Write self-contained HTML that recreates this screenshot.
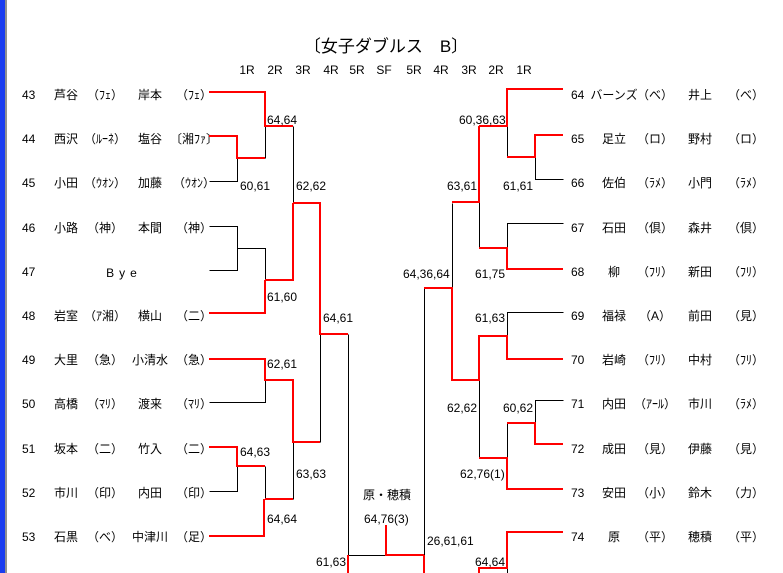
<!DOCTYPE html>
<html><head><meta charset="utf-8"><style>
html,body{margin:0;padding:0;background:#fff;width:783px;height:573px;overflow:hidden}
svg{display:block}
text{font-family:"Liberation Sans","Noto Sans CJK JP",sans-serif;font-size:12px;fill:#000}
.r{stroke:#f00;stroke-width:2;fill:none;shape-rendering:crispEdges}
.b{stroke:#000;stroke-width:1;fill:none;shape-rendering:crispEdges}
</style></head><body>
<svg width="783" height="573" viewBox="0 0 783 573" xmlns="http://www.w3.org/2000/svg">
<rect x="0" y="0" width="5" height="573" fill="#1a3cf0"/>
<rect x="5" y="0" width="2" height="573" fill="#909090"/>
<text x="386" y="52" text-anchor="middle" style="font-size:17px">〔女子ダブルス　B〕</text>
<g text-anchor="middle">
<text x="247" y="74">1R</text><text x="275" y="74">2R</text><text x="303" y="74">3R</text><text x="331" y="74">4R</text><text x="357" y="74">5R</text><text x="384" y="74">SF</text><text x="414" y="74">5R</text><text x="441" y="74">4R</text><text x="469" y="74">3R</text><text x="496" y="74">2R</text><text x="524" y="74">1R</text>
</g>
<g>
<text x="22" y="99">43</text><text x="22" y="143">44</text><text x="22" y="187">45</text><text x="22" y="232">46</text><text x="22" y="276">47</text><text x="22" y="320">48</text><text x="22" y="364">49</text><text x="22" y="408">50</text><text x="22" y="453">51</text><text x="22" y="497">52</text><text x="22" y="541">53</text>
</g>
<g text-anchor="middle">
<text x="66" y="99">芦谷</text><text x="105" y="99">（ﾌｪ）</text><text x="150" y="99">岸本</text><text x="194" y="99">（ﾌｪ）</text>
<text x="66" y="143">西沢</text><text x="105" y="143">（ﾙｰﾈ）</text><text x="150" y="143">塩谷</text><text x="194" y="143">〔湘ﾌｧ〕</text>
<text x="66" y="187">小田</text><text x="105" y="187">（ｳｵﾝ）</text><text x="150" y="187">加藤</text><text x="194" y="187">（ｳｵﾝ）</text>
<text x="66" y="232">小路</text><text x="105" y="232">（神）</text><text x="150" y="232">本間</text><text x="194" y="232">（神）</text>
<text x="124" y="277" style="letter-spacing:5px">Bye</text>
<text x="66" y="320">岩室</text><text x="105" y="320">（ｱ湘）</text><text x="150" y="320">横山</text><text x="194" y="320">（二）</text>
<text x="66" y="364">大里</text><text x="105" y="364">（急）</text><text x="150" y="364">小清水</text><text x="194" y="364">（急）</text>
<text x="66" y="408">高橋</text><text x="105" y="408">（ﾏﾘ）</text><text x="150" y="408">渡来</text><text x="194" y="408">（ﾏﾘ）</text>
<text x="66" y="453">坂本</text><text x="105" y="453">（二）</text><text x="150" y="453">竹入</text><text x="194" y="453">（二）</text>
<text x="66" y="497">市川</text><text x="105" y="497">（印）</text><text x="150" y="497">内田</text><text x="194" y="497">（印）</text>
<text x="66" y="541">石黒</text><text x="105" y="541">（べ）</text><text x="150" y="541">中津川</text><text x="194" y="541">（足）</text>
</g>
<g>
<text x="571" y="99">64</text><text x="571" y="143">65</text><text x="571" y="187">66</text><text x="571" y="232">67</text><text x="571" y="276">68</text><text x="571" y="320">69</text><text x="571" y="364">70</text><text x="571" y="408">71</text><text x="571" y="453">72</text><text x="571" y="497">73</text><text x="571" y="541">74</text>
</g>
<g text-anchor="middle">
<text x="614" y="99">バーンズ</text><text x="655" y="99">（べ）</text><text x="700" y="99">井上</text><text x="746" y="99">（べ）</text>
<text x="614" y="143">足立</text><text x="655" y="143">（ロ）</text><text x="700" y="143">野村</text><text x="746" y="143">（ロ）</text>
<text x="614" y="187">佐伯</text><text x="655" y="187">（ﾗﾒ）</text><text x="700" y="187">小門</text><text x="746" y="187">（ﾗﾒ）</text>
<text x="614" y="232">石田</text><text x="655" y="232">（倶）</text><text x="700" y="232">森井</text><text x="746" y="232">（倶）</text>
<text x="614" y="276">柳</text><text x="655" y="276">（ﾌﾘ）</text><text x="700" y="276">新田</text><text x="746" y="276">（ﾌﾘ）</text>
<text x="614" y="320">福禄</text><text x="655" y="320">（A）</text><text x="700" y="320">前田</text><text x="746" y="320">（見）</text>
<text x="614" y="364">岩崎</text><text x="655" y="364">（ﾌﾘ）</text><text x="700" y="364">中村</text><text x="746" y="364">（ﾌﾘ）</text>
<text x="614" y="408">内田</text><text x="655" y="408">（ｱｰﾙ）</text><text x="700" y="408">市川</text><text x="746" y="408">（ﾗﾒ）</text>
<text x="614" y="453">成田</text><text x="655" y="453">（見）</text><text x="700" y="453">伊藤</text><text x="746" y="453">（見）</text>
<text x="614" y="497">安田</text><text x="655" y="497">（小）</text><text x="700" y="497">鈴木</text><text x="746" y="497">（力）</text>
<text x="614" y="541">原</text><text x="655" y="541">（平）</text><text x="700" y="541">穂積</text><text x="746" y="541">（平）</text>
</g>
<g transform="translate(0.5,0.5)">
<path class="b" d="M209 181H237V158 M265 126V158 M293 126V203 M209 226H237V270H209 M237 248H265V280 M320 334V442 M348 334V555H386 M209 402H265V380 M209 491H237V466 M265 466V499 M293 442V499 M424 288V555"/>
<path class="b" d="M563 179H535V157 M507 126V157 M452 203V288 M563 223H507V248 M479 202V248 M563 312H507V336 M479 380V458 M563 400H535V423 M507 423V458 M507 568V573"/>
</g>
<path class="r" d="M209 92H265V126H293 M209 136H237V158H265 M293 203H320V334H348 M293 203V280H265 M265 280V313H209 M209 359H265V380H293V442H320 M209 447H237V466H265 M265 499H293 M209 536H264V499 M386 525V555H424 M348 555V573 M424 555V573"/>
<path class="r" d="M563 89H507V126H479 M563 135H535V157H507 M479 126V202H452 M479 248H507V269H563 M424 288H452V380H479V336H507V359H563 M479 458H507V489H563 M507 423H535V444H563 M563 532H507V568H479V573"/>
<g>
<text x="267" y="124">64,64</text>
<text x="240" y="190">60,61</text>
<text x="296" y="190">62,62</text>
<text x="267" y="301">61,60</text>
<text x="323" y="322">64,61</text>
<text x="267" y="368">62,61</text>
<text x="240" y="456">64,63</text>
<text x="296" y="478">63,63</text>
<text x="267" y="523">64,64</text>
<text x="316" y="566">61,63</text>
<text x="363" y="499">原・穂積</text>
<text x="364" y="523">64,76(3)</text>
<text x="427" y="545">26,61,61</text>
<text x="459" y="124">60,36,63</text>
<text x="447" y="190">63,61</text>
<text x="503" y="190">61,61</text>
<text x="403" y="278">64,36,64</text>
<text x="475" y="278">61,75</text>
<text x="475" y="322">61,63</text>
<text x="447" y="412">62,62</text>
<text x="503" y="412">60,62</text>
<text x="460" y="478">62,76(1)</text>
<text x="475" y="566">64,64</text>
</g>
</svg>
</body></html>
